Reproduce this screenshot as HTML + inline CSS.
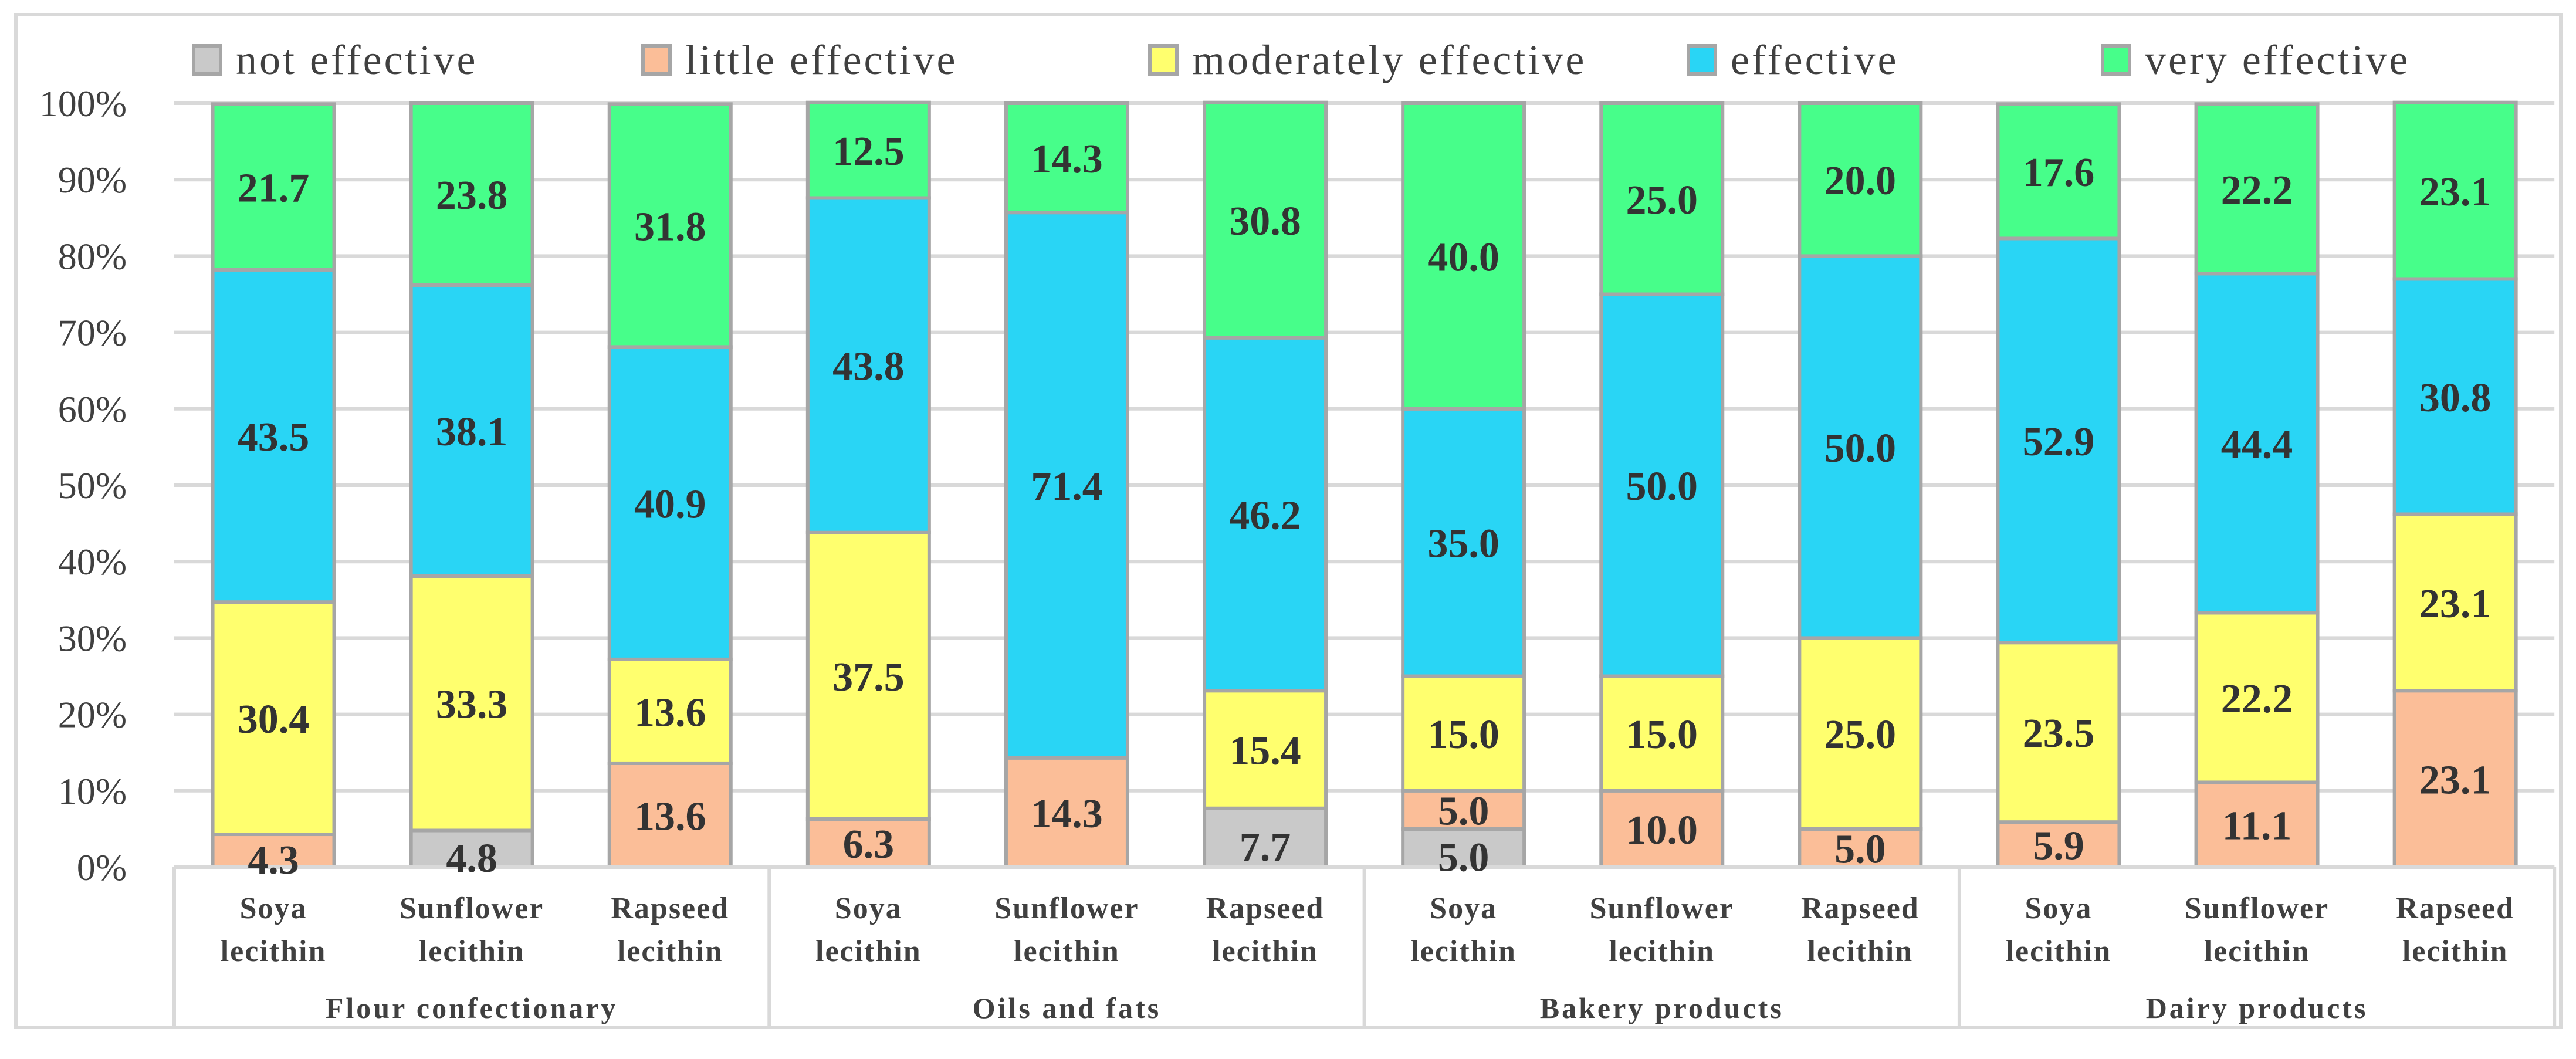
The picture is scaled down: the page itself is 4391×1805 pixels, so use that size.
<!DOCTYPE html>
<html><head><meta charset="utf-8"><style>
html,body{margin:0;padding:0;background:#fff}
svg{display:block;font-family:"Liberation Serif",serif}
</style></head><body>
<svg id="chart" width="4391" height="1805" viewBox="0 0 4391 1805" xmlns="http://www.w3.org/2000/svg">
<rect x="27" y="25" width="4338" height="1726" fill="#fff" stroke="#d9d9d9" stroke-width="6"/>
<g id="grid"></g><g id="bars"></g><g id="axis"></g><g id="labels"></g><g id="legend"></g>
</svg>
<script>
const groups = ["Flour confectionary","Oils and fats","Bakery products","Dairy products"];
const products = ["Soya","Sunflower","Rapseed"];
const seriesNames = ["not effective","little effective","moderately effective","effective","very effective"];
const notEffective = [0,4.8,0, 0,0,7.7, 5,0,0, 0,0,0];
const littleEffective = [4.3,0,13.6, 6.3,14.3,0, 5,10,5, 5.9,11.1,23.1];
const moderatelyEffective = [30.4,33.3,13.6, 37.5,0,15.4, 15,15,25, 23.5,22.2,23.1];
const effective = [43.5,38.1,40.9, 43.8,71.4,46.2, 35,50,50, 52.9,44.4,30.8];
const veryEffective = [21.7,23.8,31.8, 12.5,14.3,30.8, 40,25,20, 17.6,22.2,23.1];
const yTicks = [0,10,20,30,40,50,60,70,80,90,100];

const series=[notEffective,littleEffective,moderatelyEffective,effective,veryEffective];
const colors=["#c9c9c9","#fbbe98","#ffff6e","#29d5f5","#47fe8a"];
const NS="http://www.w3.org/2000/svg";
const X0=297,CW=338.1,BW=207,Y0=1478,Y100=176;
const y=v=>Y0-(Y0-Y100)*v/100;
const xc=i=>X0+CW*(i+0.5);
function mk(tag,attrs,parent,text){const e=document.createElementNS(NS,tag);for(const k in attrs)e.setAttribute(k,attrs[k]);if(text!==undefined)e.textContent=text;document.getElementById(parent).appendChild(e);return e;}
yTicks.forEach(t=>{
  const l=mk('line',{x1:X0,x2:X0+CW*12,y1:y(t),y2:y(t),stroke:'#d9d9d9','stroke-width':6},'grid');
  
  
  const tx=mk('text',{x:216,y:y(t)+22,'text-anchor':'end','font-size':64,fill:'#404040'},'axis',t+'%');
  
  
});
const n=notEffective.length;
for(let i=0;i<n;i++){
  let cum=0,first=true;
  series.forEach((s,k)=>{
    const v=s[i]; if(!v) return;
    const top=y(cum+v),bot=y(cum);
    const r=mk('rect',{x:xc(i)-BW/2,y:top,width:BW,height:bot-top,fill:colors[k],stroke:'#a6a6a6','stroke-width':6},'bars');
    
    
    const off=(first&&(v<5||k===0))?14:0;
    const t=mk('text',{x:xc(i),y:(top+bot)/2+25+off,'text-anchor':'middle','font-size':70,'font-weight':'bold',fill:'#333'},'labels',v.toFixed(1));
    
    
    cum+=v; first=false;
  });
  const p=products[i%3];
  const a=mk('text',{x:xc(i),y:1565,'text-anchor':'middle','font-size':52,'font-weight':'bold','letter-spacing':2,fill:'#404040'},'axis',p);
  
  
  const b=mk('text',{x:xc(i),y:1638,'text-anchor':'middle','font-size':52,'font-weight':'bold','letter-spacing':2,fill:'#404040'},'axis','lecithin');
  
  
}
const base=mk('line',{x1:X0,x2:X0+CW*12,y1:Y0,y2:Y0,stroke:'#d9d9d9','stroke-width':6},'axis');


for(let g=0;g<=4;g++){
  const lx=X0+CW*3*g;
  const l=mk('line',{x1:lx,x2:lx,y1:Y0,y2:1750,stroke:'#d9d9d9','stroke-width':6},'axis');
  
  
  if(g<4){
    const t=mk('text',{x:lx+CW*1.5,y:1735,'text-anchor':'middle','font-size':50,'font-weight':'bold','letter-spacing':4,fill:'#404040'},'axis',groups[g]);
    
    
  }
}
const legX=[330,1096,1960,2878,3584];
seriesNames.forEach((s,k)=>{
  const r=mk('rect',{x:legX[k],y:78,width:46,height:48,fill:colors[k],stroke:'#a6a6a6','stroke-width':6},'legend');
  
  
  const t=mk('text',{x:legX[k]+72,y:126,'font-size':72,'letter-spacing':4,fill:'#404040'},'legend',s);
  
  
});
</script>
</body></html>
